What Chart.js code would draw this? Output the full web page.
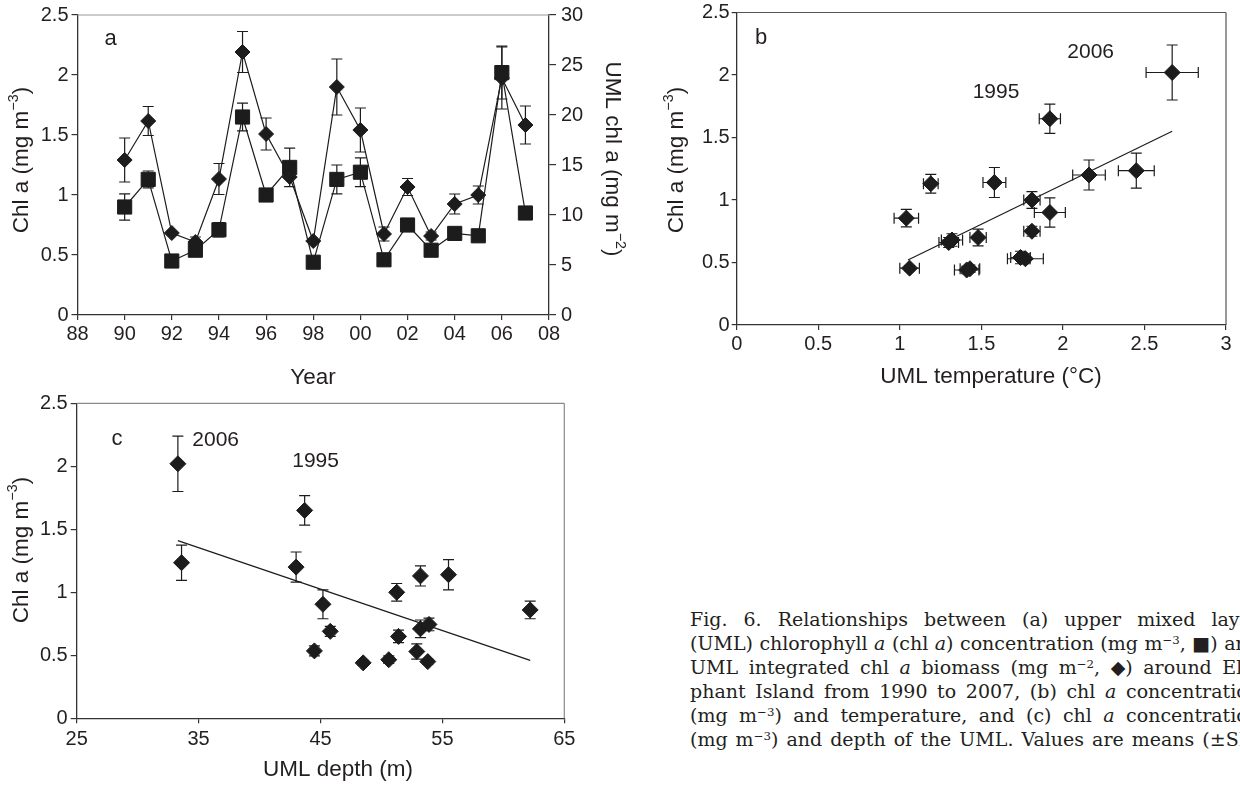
<!DOCTYPE html>
<html>
<head>
<meta charset="utf-8">
<script src="https://cdn.jsdelivr.net/npm/chart.js@4.4.1/dist/chart.umd.min.js"></script>
<style>
html,body{margin:0;padding:0;background:#fff;}
body{width:1240px;height:788px;overflow:hidden;position:relative;}
canvas{position:absolute;}
#ca{left:0;top:0;}
#cb{left:640px;top:0;}
#cc{left:0;top:388px;}
.ln{position:absolute;left:690px;width:570px;height:24px;line-height:24px;display:flex;justify-content:space-between;white-space:nowrap;font-family:'DejaVu Serif',serif;font-size:19px;color:#231f20;}
.ln sup{font-size:0.62em;line-height:0;vertical-align:0.55em;}
</style>
</head>
<body>
<canvas id="ca" width="640" height="392"></canvas>
<canvas id="cb" width="600" height="392"></canvas>
<canvas id="cc" width="640" height="400"></canvas>
<div id="caption"></div>
<script>
// ---------------- DATA ----------------
// Panel a: time series 1990-2007
const years = [1990,1991,1992,1993,1994,1995,1996,1997,1998,1999,2000,2001,2002,2003,2004,2005,2006,2007];
const umlChlConc = [0.90,1.13,0.45,0.54,0.71,1.65,1.00,1.23,0.44,1.13,1.19,0.46,0.75,0.54,0.68,0.66,2.02,0.85];     // mg m-3 (squares, left axis)
const umlChlConcErr = [0.11,0.07,0,0.05,0.06,0.115,0.03,0.16,0,0.12,0.12,0,0,0,0,0,0.22,0];
const umlChlBiomass = [15.5,19.4,8.2,7.3,13.6,26.3,18.1,13.8,7.4,22.8,18.5,8.1,12.8,7.9,11.1,12.0,23.7,19.0];   // mg m-2 (diamonds, right axis)
const umlChlBiomassErr = [2.2,1.45,0,0.5,1.55,2.05,1.6,0,0,2.8,2.2,0.7,0.85,0.4,1.0,0.9,3.1,1.9];
const yearTickLabels = ['88','90','92','94','96','98','00','02','04','06','08'];
const chlTickLabels = ['0','0.5','1','1.5','2','2.5'];
const biomassTickLabels = ['0','5','10','15','20','25','30'];

// Panel b: chl a vs UML temperature
const tempValues = [2.67,1.92,2.45,2.16,1.58,1.19,1.81,1.92,1.04,1.81,1.48,1.32,1.30,1.74,1.77,1.06,1.41,1.43];
const tempChl    = [2.02,1.65,1.235,1.20,1.14,1.13,1.00,0.90,0.855,0.75,0.70,0.68,0.66,0.54,0.53,0.455,0.44,0.45];
const tempErr    = [0.16,0.065,0.11,0.10,0.07,0.045,0.05,0.095,0.075,0.05,0.05,0.065,0.06,0.06,0.11,0.06,0.075,0.06];
const tempChlErr = [0.22,0.117,0.14,0.12,0.12,0.075,0.067,0.117,0.07,0.04,0.067,0.05,0.04,0.05,0.04,0.02,0.03,0.03];
const tempFitX = [1.05,2.67];
const tempFitY = [0.52,1.55];
const tempTickLabels = ['0','0.5','1','1.5','2','2.5','3'];

// Panel c: chl a vs UML depth
const depthValues = [33.3,33.6,43.7,43.0,45.2,45.8,44.5,48.5,50.6,51.25,51.4,53.2,52.9,53.2,53.9,53.8,55.5,62.2];
const depthChl    = [2.02,1.235,1.65,1.20,0.905,0.69,0.535,0.44,0.465,1.00,0.65,1.13,0.53,0.71,0.745,0.45,1.14,0.86];
const depthChlErr = [0.22,0.14,0.117,0.12,0.115,0.04,0.04,0.02,0.03,0.07,0.05,0.08,0.06,0.07,0.05,0.02,0.12,0.07];
const depthFitX = [33.3,62.2];
const depthFitY = [1.41,0.46];
const depthTickLabels = ['25','35','45','55','65'];

// Caption
const captionLines = [
  'Fig. 6. Relationships between (a) upper mixed layer',
  '(UML) chlorophyll <i>a</i> (chl <i>a</i>) concentration (mg m<sup>−3</sup>, ■) and',
  'UML integrated chl <i>a</i> biomass (mg m<sup>−2</sup>, ◆) around Ele-',
  'phant Island from 1990 to 2007, (b) chl <i>a</i> concentration',
  '(mg m<sup>−3</sup>) and temperature, and (c) chl <i>a</i> concentration',
  '(mg m<sup>−3</sup>) and depth of the UML. Values are means (±SE)'
];

// ---------------- STYLE ----------------
const FAM = "'Liberation Sans', Arial, Helvetica, sans-serif";
const TXT = '#231f20';
const INK = '#1c1c1c';
const AX = '#333333';
Chart.defaults.font.family = FAM;
Chart.defaults.color = TXT;

// caption
(function(){
  const cap = document.getElementById('caption');
  captionLines.forEach((l, i) => {
    const d = document.createElement('div');
    d.className = 'ln';
    d.style.top = (607 + i * 24) + 'px';
    d.innerHTML = l.split(' ').map(w => '<span>' + w + '</span>').join('');
    cap.appendChild(d);
  });
})();

// ---------------- PLUGINS ----------------
function drawRich(ctx, segs, x, y, rot, size, align) {
  ctx.save();
  ctx.translate(x, y);
  if (rot) ctx.rotate(rot * Math.PI / 180);
  const supSize = size * 0.64;
  let total = 0;
  const ws = segs.map(s => {
    ctx.font = (s.sup ? supSize : size) + 'px ' + FAM;
    const w = ctx.measureText(s.t).width; total += w; return w;
  });
  let cx = align === 'left' ? 0 : -total / 2;
  ctx.fillStyle = TXT; ctx.textBaseline = 'middle'; ctx.textAlign = 'left';
  segs.forEach((s, i) => {
    ctx.font = (s.sup ? supSize : size) + 'px ' + FAM;
    ctx.fillText(s.t, cx, s.sup ? -size * 0.36 : 0);
    cx += ws[i];
  });
  ctx.restore();
}

const textPlugin = {
  id: 'texts',
  afterDraw(chart, args, opts) {
    const ctx = chart.ctx;
    (opts.items || []).forEach(it => {
      let x = it.x, y = it.y;
      if (it.vx !== undefined) {
        x = chart.scales[it.xs || 'x'].getPixelForValue(it.vx);
        y = chart.scales[it.ys || 'y'].getPixelForValue(it.vy);
      }
      drawRich(ctx, it.segs, x, y, it.rot || 0, it.size || 22.5, it.align);
    });
  }
};

const errPlugin = {
  id: 'errBars',
  beforeDatasetsDraw(chart, args, opts) {
    const ctx = chart.ctx;
    const cap = opts.cap || 5;
    ctx.save();
    ctx.strokeStyle = INK; ctx.lineWidth = 1.2;
    chart.data.datasets.forEach(ds => {
      if (!ds.yErr && !ds.xErr) return;
      const xs = chart.scales[ds.xAxisID || 'x'];
      const ys = chart.scales[ds.yAxisID || 'y'];
      ds.data.forEach((p, j) => {
        const px = xs.getPixelForValue(p.x), py = ys.getPixelForValue(p.y);
        ctx.beginPath();
        if (ds.yErr && ds.yErr[j] > 0) {
          const t = ys.getPixelForValue(p.y + ds.yErr[j]);
          const b = ys.getPixelForValue(p.y - ds.yErr[j]);
          ctx.moveTo(px, t); ctx.lineTo(px, b);
          ctx.moveTo(px - cap, t); ctx.lineTo(px + cap, t);
          ctx.moveTo(px - cap, b); ctx.lineTo(px + cap, b);
        }
        if (ds.xErr && ds.xErr[j] > 0) {
          const l = xs.getPixelForValue(p.x - ds.xErr[j]);
          const r = xs.getPixelForValue(p.x + ds.xErr[j]);
          ctx.moveTo(l, py); ctx.lineTo(r, py);
          ctx.moveTo(l, py - cap); ctx.lineTo(l, py + cap);
          ctx.moveTo(r, py - cap); ctx.lineTo(r, py + cap);
        }
        ctx.stroke();
      });
    });
    ctx.restore();
  }
};

const framePlugin = {
  id: 'frame',
  afterDraw(chart, args, opts) {
    const a = chart.chartArea, ctx = chart.ctx;
    ctx.save();
    ctx.lineWidth = 1.2;
    if (opts.top) { ctx.strokeStyle = opts.top; ctx.beginPath(); ctx.moveTo(a.left, a.top); ctx.lineTo(a.right, a.top); ctx.stroke(); }
    if (opts.right) { ctx.strokeStyle = opts.right; ctx.beginPath(); ctx.moveTo(a.right, a.top); ctx.lineTo(a.right, a.bottom); ctx.stroke(); }
    ctx.restore();
  }
};

// ---------------- HELPERS ----------------
function linAxis(pos, min, max, step, labels, tickLen, pad, fit) {
  const horiz = pos === 'bottom';
  return {
    type: 'linear', position: pos, min: min, max: max,
    ticks: {
      stepSize: step, autoSkip: false, maxRotation: 0, minRotation: 0,
      padding: pad, color: TXT, font: { size: 20, lineHeight: 1.0 },
      callback: (v, i) => labels[i]
    },
    grid: { display: true, drawOnChartArea: false, drawTicks: true, tickLength: tickLen, color: AX, lineWidth: 1.2 },
    border: { display: true, color: AX, width: 1.3 },
    afterFit: s => { if (horiz) s.height = fit; else s.width = fit; }
  };
}
function pts(xs, ys) { return xs.map((x, i) => ({ x: x, y: ys[i] })); }

const baseOpts = { responsive: false, animation: false, devicePixelRatio: 1, events: [] };

// ---------------- PANEL A ----------------
new Chart(document.getElementById('ca'), {
  type: 'scatter',
  data: {
    datasets: [
      {
        label: 'UML chl a biomass', data: pts(years, umlChlBiomass), yAxisID: 'y2',
        yErr: umlChlBiomassErr, showLine: true, borderColor: INK, borderWidth: 1.2,
        pointStyle: 'rectRot', pointRadius: 7.5, pointBackgroundColor: INK, pointBorderColor: INK, pointBorderWidth: 1, clip: false
      },
      {
        label: 'UML chl a concentration', data: pts(years, umlChlConc), yAxisID: 'y',
        yErr: umlChlConcErr, showLine: true, borderColor: INK, borderWidth: 1.2,
        pointStyle: 'rect', pointRadius: 10, pointBackgroundColor: INK, pointBorderColor: INK, pointBorderWidth: 1, clip: false
      }
    ]
  },
  options: Object.assign({}, baseOpts, {
    layout: { padding: { top: 13.5, left: 0, right: 0, bottom: 0 } },
    scales: {
      x: linAxis('bottom', 1988, 2008, 2, yearTickLabels, 5, 4, 77),
      y: linAxis('left', 0, 2.5, 0.5, chlTickLabels, 6, 3, 77.5),
      y2: linAxis('right', 0, 30, 5, biomassTickLabels, 7, 5, 91)
    },
    plugins: {
      legend: { display: false }, tooltip: { enabled: false },
      errBars: { cap: 5.5 },
      frame: { top: '#9a9a9a' },
      texts: { items: [
        { segs: [{ t: 'Chl a (mg m' }, { t: '−3', sup: 1 }, { t: ')' }], x: 22, y: 160, rot: -90 },
        { segs: [{ t: 'UML chl a (mg m' }, { t: '−2', sup: 1 }, { t: ')' }], x: 612, y: 159, rot: 90 },
        { segs: [{ t: 'Year' }], x: 313, y: 378 },
        { segs: [{ t: 'a' }], vx: 1989.4, vy: 2.30, size: 22 }
      ] }
    }
  }),
  plugins: [errPlugin, framePlugin, textPlugin]
});

// ---------------- PANEL B ----------------
new Chart(document.getElementById('cb'), {
  type: 'scatter',
  data: {
    datasets: [
      {
        label: 'Chl a vs temperature', data: pts(tempValues, tempChl), xErr: tempErr, yErr: tempChlErr,
        pointStyle: 'rectRot', pointRadius: 8, pointBackgroundColor: INK, pointBorderColor: INK, pointBorderWidth: 1, clip: false
      },
      {
        label: 'fit', data: pts(tempFitX, tempFitY), showLine: true, pointRadius: 0,
        borderColor: INK, borderWidth: 1.2, clip: false
      }
    ]
  },
  options: Object.assign({}, baseOpts, {
    layout: { padding: { top: 12.5, left: 0, right: 14, bottom: 0 } },
    scales: {
      x: linAxis('bottom', 0, 3, 0.5, tempTickLabels, 5, 4, 67),
      y: linAxis('left', 0, 2.5, 0.5, chlTickLabels, 5, 2, 96.7)
    },
    plugins: {
      legend: { display: false }, tooltip: { enabled: false },
      errBars: { cap: 5.5 },
      frame: { top: '#555', right: '#555' },
      texts: { items: [
        { segs: [{ t: 'Chl a (mg m' }, { t: '−3', sup: 1 }, { t: ')' }], x: 37, y: 160, rot: -90 },
        { segs: [{ t: 'UML temperature (°C)' }], x: 351, y: 377 },
        { segs: [{ t: 'b' }], vx: 0.15, vy: 2.30, size: 22 },
        { segs: [{ t: '2006' }], vx: 2.17, vy: 2.18, size: 21 },
        { segs: [{ t: '1995' }], vx: 1.59, vy: 1.86, size: 21 }
      ] }
    }
  }),
  plugins: [errPlugin, framePlugin, textPlugin]
});

// ---------------- PANEL C ----------------
new Chart(document.getElementById('cc'), {
  type: 'scatter',
  data: {
    datasets: [
      {
        label: 'Chl a vs depth', data: pts(depthValues, depthChl), yErr: depthChlErr,
        pointStyle: 'rectRot', pointRadius: 8, pointBackgroundColor: INK, pointBorderColor: INK, pointBorderWidth: 1, clip: false
      },
      {
        label: 'fit', data: pts(depthFitX, depthFitY), showLine: true, pointRadius: 0,
        borderColor: INK, borderWidth: 1.2, clip: false
      }
    ]
  },
  options: Object.assign({}, baseOpts, {
    layout: { padding: { top: 15.3, left: 0, right: 75.7, bottom: 0 } },
    scales: {
      x: linAxis('bottom', 25, 65, 10, depthTickLabels, 5, 6, 69.7),
      y: linAxis('left', 0, 2.5, 0.5, chlTickLabels, 6, 3, 76.7)
    },
    plugins: {
      legend: { display: false }, tooltip: { enabled: false },
      errBars: { cap: 5.5 },
      frame: { top: '#8a8a8a', right: '#8a8a8a' },
      texts: { items: [
        { segs: [{ t: 'Chl a (mg m' }, { t: '−3', sup: 1 }, { t: ')' }], x: 21.5, y: 162, rot: -90 },
        { segs: [{ t: 'UML depth (m)' }], x: 338, y: 382 },
        { segs: [{ t: 'c' }], vx: 28.3, vy: 2.22, size: 22 },
        { segs: [{ t: '2006' }], vx: 36.4, vy: 2.21, size: 21 },
        { segs: [{ t: '1995' }], vx: 44.6, vy: 2.04, size: 21 }
      ] }
    }
  }),
  plugins: [errPlugin, framePlugin, textPlugin]
});
</script>
</body>
</html>
